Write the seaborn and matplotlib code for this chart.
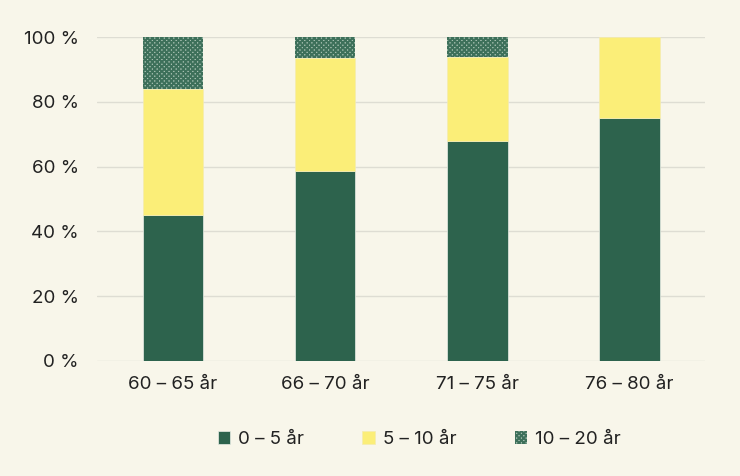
import numpy as np
import pandas as pd
import matplotlib.pyplot as plt
import seaborn as sns

# age groups and share (%) per length of time
categories = ['60 – 65 år', '66 – 70 år', '71 – 75 år', '76 – 80 år']
share_0_5 = [45, 58.5, 68, 75]
share_5_10 = [39, 35, 26, 25]
share_10_20 = [16, 6.5, 6, 0]
series_labels = ['0 – 5 år', '5 – 10 år', '10 – 20 år']

bg = '#f8f6ea'
green = '#2d634d'
yellow = '#fbee78'

sns.set_theme(style='white')
plt.rcParams['font.family'] = ['Inter', 'DejaVu Sans']
plt.rcParams['hatch.linewidth'] = 1.4

df = pd.DataFrame({'cat': categories, 'a': share_0_5, 'b': share_5_10, 'c': share_10_20})
bottom_b = np.array(share_0_5)
bottom_c = bottom_b + np.array(share_5_10)

fig, ax = plt.subplots(figsize=(7.4, 4.76), dpi=100)
fig.patch.set_facecolor(bg)
ax.set_facecolor(bg)

sns.barplot(data=df, x='cat', y='a', color=green, width=0.4, ax=ax,
            saturation=1, label=series_labels[0], edgecolor='#e9eee6', linewidth=0.5)
sns.barplot(data=df, x='cat', y='b', bottom=bottom_b, color=yellow, width=0.4, ax=ax,
            saturation=1, label=series_labels[1], edgecolor='#f4ecb0', linewidth=0.5)
sns.barplot(data=df, x='cat', y='c', bottom=bottom_c, color='#a9c2b3', width=0.4, ax=ax,
            saturation=1, label=series_labels[2], hatch='xxxxxxx', edgecolor='#3d705a',
            linewidth=0)

ax.set_ylim(0, 100)
ax.set_xlim(-0.5, 3.5)
ax.set_yticks(range(0, 101, 20))
ax.set_yticklabels([f'{v} %' for v in range(0, 101, 20)])
ax.yaxis.grid(True, color='#deddd3', linewidth=1)
ax.set_axisbelow(True)
for s in ax.spines.values():
    s.set_visible(False)
ax.tick_params(axis='both', length=0, labelsize=13.5, colors='#222222', pad=11)
ax.tick_params(axis='y', pad=13)
ax.set_xlabel('')
ax.set_ylabel('')

leg = ax.legend(loc='upper center', bbox_to_anchor=(0.53, -0.165), ncol=3, frameon=False,
                fontsize=13.5, handlelength=0.65, handleheight=0.65, columnspacing=3.1,
                handletextpad=0.45)
for t in leg.get_texts():
    t.set_color('#222222')

plt.subplots_adjust(left=0.131, right=0.953, top=0.922, bottom=0.242)
plt.savefig('out.png', facecolor=bg)
